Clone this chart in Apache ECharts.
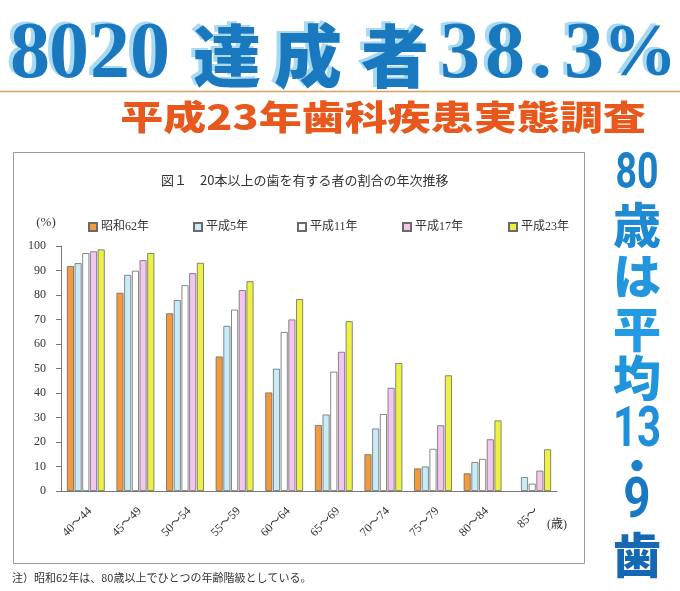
<!DOCTYPE html>
<html>
<head>
<meta charset="utf-8">
<script src="https://cdn.jsdelivr.net/npm/echarts@6/dist/echarts.min.js"></script>
<style>
html,body{margin:0;padding:0;background:#fff;}
#main{width:680px;height:591px;}
</style>
</head>
<body>
<div id="main"></div>
<script>
// ---- data ----
const categories = ['40～44','45～49','50～54','55～59','60～64','65～69','70～74','75～79','80～84','85～'];
const seriesNames = ['昭和62年','平成5年','平成11年','平成17年','平成23年'];
const s62 = [91.8, 80.9, 72.5, 54.9, 40.2, 26.9, 15.0, 9.2, 7.2, null];
const h5  = [93.0, 88.2, 77.9, 67.4, 49.9, 31.2, 25.5, 10.0, 11.8, 5.7];
const h11 = [97.1, 89.9, 84.0, 74.0, 64.9, 48.7, 31.4, 17.2, 13.1, 3.0];
const h17 = [97.8, 94.2, 88.9, 82.0, 70.0, 56.8, 42.1, 26.8, 21.1, 8.3];
const h23 = [98.6, 97.1, 93.1, 85.6, 78.3, 69.3, 52.2, 47.2, 28.8, 17.0];
const yMin = 0, yMax = 100, yStep = 10;

const headline = ['8','0','2','0','達','成','者','3','8','.','3','%'];
const sideText = ['80','歳','は','平','均','13','・','9','歯'];

// ---- styles ----
const colors = ['#f4993c','#c8ebf8','#ffffff','#f3c6ef','#eef044'];
const serif = '"Liberation Serif","DejaVu Serif","Noto Sans CJK JP",serif';
const sans = '"Noto Sans CJK JP","Noto Sans",sans-serif';

const chart = echarts.init(document.getElementById('main'), null, {renderer:'canvas'});

const allData = [s62, h5, h11, h17, h23];
const series = seriesNames.map((n,i)=>({
  name:n, type:'bar', data:allData[i],
  barWidth:7, barGap:'10%',
  itemStyle:{color:colors[i], borderColor:'#6a6a6a', borderWidth:0.8},
  emphasis:{disabled:true}
}));

const legendLeft = [83,188,292,397,503];
const legends = seriesNames.map((n,i)=>({
  data:[n], left:legendLeft[i], top:216, itemWidth:8, itemHeight:8, itemGap:4,
  icon:'rect',
  textStyle:{fontFamily:serif, fontSize:12, color:'#333', padding:[0,0,0,-1]}
}));

// headline positions
const hlX = [30,69,110,150,227,308,395,460,505,542,584,640];
const graphics = [];
graphics.push({type:'rect', shape:{x:13.5,y:152.5,width:571,height:411}, style:{fill:'none', stroke:'#9a9a9a', lineWidth:1}, silent:true});
graphics.push({type:'line', shape:{x1:0,y1:91.5,x2:680,y2:91.5}, style:{stroke:'#d6a062', lineWidth:1.5}, silent:true});
headline.forEach((c,i)=>{
  const isK = /[達成者]/.test(c);
  const isPct = c==='%';
  const font = isK ? ('900 68px '+sans) : ('bold '+(isPct?74:80)+'px '+serif);
  const y = 56;
  // light blue offset copy (shadow)
  graphics.push({
    type:'text', x:hlX[i]-4, y:y-2, silent:true,
    style:{text:c, x:0, y:0, textAlign:'center', textVerticalAlign:'middle', font:font, fill:'#a8d9f3'}
  });
  graphics.push({
    type:'text', x:hlX[i], y:y, silent:true,
    style:{text:c, x:0, y:0, textAlign:'center', textVerticalAlign:'middle', font:font, fill:'#1a78bf'}
  });
});
graphics.push({
  type:'text', x:383, y:117, scaleX:1, scaleY:0.8, silent:true,
  style:{text:'平成23年歯科疾患実態調査', x:0, y:0, textAlign:'center', textVerticalAlign:'middle',
    font:'900 43px '+sans, fill:'#e8581c'}
});
// side vertical text
const sideY = [175,225,276,329,378,432,466,503,555];
const sideColor = ['#1a80c8','#1e8ad3','#2297de','#229be2','#1f95dc','#1e8fd8','#1a82cc','#1878c4','#1468b4'];
sideText.forEach((t,i)=>{
  const digit = /^[0-9]+$/.test(t);
  let font, sx = 1;
  if (digit) {
    const size = t==='80' ? 50 : 56;
    sx = t==='9' ? 0.85 : 0.75;
    font = 'bold '+size+'px Roboto,"Liberation Sans",sans-serif';
  } else if (t==='・') {
    font = '900 40px '+sans;
  } else {
    font = '900 48px '+sans;
  }
  graphics.push({
    type:'text', x:637, y:sideY[i], scaleX:sx, silent:true,
    style:{text:t, x:0, y:0, textAlign:'center', textVerticalAlign:'middle', font:font, fill:sideColor[i]}
  });
});
graphics.push({type:'text', x:557, y:525, silent:true,
  style:{text:'(歳)', x:0, y:0, textAlign:'center', textVerticalAlign:'middle', font:'12px '+serif, fill:'#333'}});
graphics.push({type:'text', x:46, y:223, silent:true,
  style:{text:'(%)', x:0, y:0, textAlign:'center', textVerticalAlign:'middle', font:'13px '+serif, fill:'#333'}});
graphics.push({type:'text', x:12, y:578, silent:true,
  style:{text:'注）昭和62年は、80歳以上でひとつの年齢階級としている。', x:0, y:0, textAlign:'left', textVerticalAlign:'middle', font:'11px '+sans, fill:'#333'}});

chart.setOption({
  animation:false,
  backgroundColor:'#fff',
  title:{text:'図１　20本以上の歯を有する者の割合の年次推移', left:156, top:169,
    textStyle:{fontFamily:sans, fontSize:13, fontWeight:'normal', color:'#333'}},
  legend:legends,
  grid:{left:61, right:123, top:246, bottom:100, containLabel:false},
  xAxis:{
    type:'category', data:categories,
    axisLine:{lineStyle:{color:'#777', width:1}},
    axisTick:{length:5, lineStyle:{color:'#777'}},
    axisLabel:{rotate:45, margin:14, fontFamily:serif, fontSize:12, color:'#333', interval:0,
      padding:[0,0,0,0], align:'right', verticalAlign:'top'}
  },
  yAxis:{
    type:'value', min:yMin, max:yMax, interval:yStep,
    axisLine:{show:true, lineStyle:{color:'#777', width:1}},
    axisTick:{show:true, length:5, lineStyle:{color:'#777'}},
    splitLine:{show:false},
    axisLabel:{margin:15, fontFamily:serif, fontSize:12, color:'#333'}
  },
  series:series,
  graphic:graphics
});
</script>
</body>
</html>
